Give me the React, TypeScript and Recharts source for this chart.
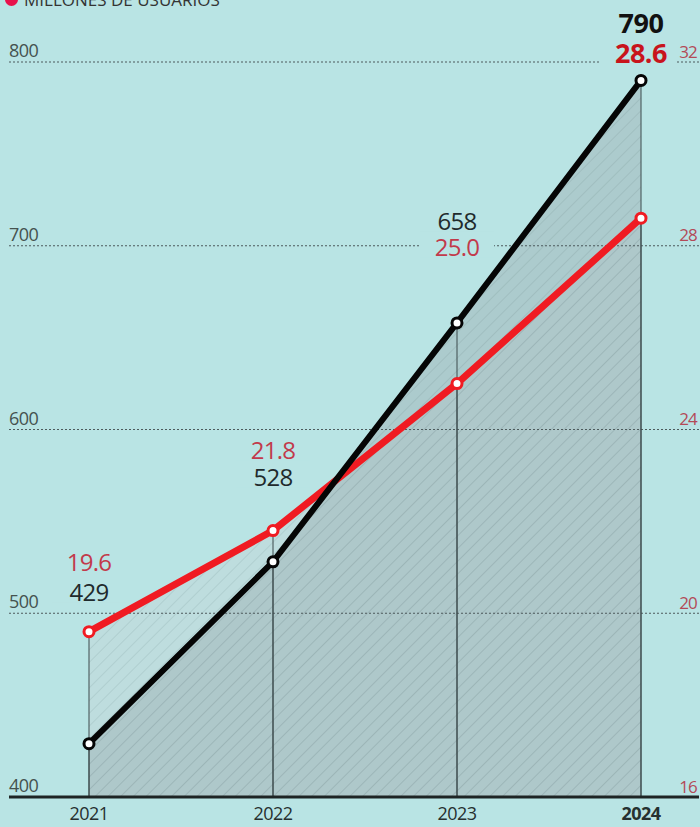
import { ComposedChart, Area, Line, XAxis, YAxis, ReferenceLine, LabelList } from 'recharts';

const years = ['2021', '2022', '2023', '2024'];
const users = [429, 528, 658, 790];
const share = [19.6, 21.8, 25.0, 28.6];
const userTicks = [400, 500, 600, 700, 800];
const shareTicks = [16, 20, 24, 28, 32];

const data = years.map((year, i) => ({ year, users: users[i], share: share[i] }));

// label placement, relative to each point (style only)
const userLabelDy = [-152, -85, -102, -58];
const shareLabelDy = [-70, -81, -137, -166];

const BG = '#b9e4e4';
const FONT = '"Open Sans", "Noto Sans", sans-serif';

function LeftTick({ x, y, payload }: any) {
  return (
    <text x={x} y={y - 12} textAnchor="start" dominantBaseline="central" fontSize={18} fill="#45524f" fontFamily={FONT} letterSpacing={-0.5}>
      {payload.value}
    </text>
  );
}

function RightTick({ x, y, payload }: any) {
  return (
    <text x={x - 2} y={y - 11} textAnchor="end" dominantBaseline="central" fontSize={17} fill="#b34a57" fontFamily={FONT} letterSpacing={-0.8}>
      {payload.value}
    </text>
  );
}

function YearTick({ x, y, payload, index }: any) {
  return (
    <text x={x} y={y + 16} textAnchor="middle" dominantBaseline="central" fontSize={18} fill="#26302f" fontWeight={index === 3 ? 700 : 400} fontFamily={FONT} letterSpacing={-0.5}>
      {payload.value}
    </text>
  );
}

function makeLabel(offsets: number[], color: string, boldColor: string, fmt: (v: number) => string) {
  return ({ x, y, value, index }: any) => {
    const last = index === years.length - 1;
    const cy = y + offsets[index];
    return (
      <g>
        <rect x={x - (last ? 40 : 37)} y={cy - 11} width={last ? 76 : 74} height={22} fill={BG} />
        <text x={x} y={cy} textAnchor="middle" dominantBaseline="central" fontSize={last ? 27 : 24} fontFamily={FONT}
          letterSpacing={last ? -0.5 : -0.8} fontWeight={last ? 700 : 400} fill={last ? boldColor : color}>
          {fmt(value)}
        </text>
      </g>
    );
  };
}

export default function App() {
  return (
    <div style={{ position: 'fixed', top: 0, left: 0, width: 700, height: 827, overflow: 'hidden', background: BG }}>
      <div style={{ position: 'absolute', top: -12, left: 5, fontFamily: FONT, fontSize: 17, color: '#333', display: 'flex', alignItems: 'center', gap: 6, whiteSpace: 'nowrap' }}>
        <span style={{ width: 13, height: 13, borderRadius: 7, background: '#e8114b', display: 'inline-block' }} />
        MILLONES DE USUARIOS
      </div>
      <ComposedChart width={700} height={827} data={data} margin={{ top: 62, right: 0, bottom: 0, left: 8 }}>
        <defs>
          <pattern id="hatchLight" width="9" height="9" patternUnits="userSpaceOnUse" patternTransform="rotate(45)">
            <rect width="9" height="9" fill="#c2d9da" />
            <line x1="0" y1="0" x2="0" y2="9" stroke="#a9c0c2" strokeWidth="2" />
          </pattern>
          <pattern id="hatchDark" width="9" height="9" patternUnits="userSpaceOnUse" patternTransform="rotate(45)">
            <rect width="9" height="9" fill="#a4babd" />
            <line x1="0" y1="0" x2="0" y2="9" stroke="#8fa5a8" strokeWidth="2" />
          </pattern>
        </defs>
        <XAxis dataKey="year" height={30} padding={{ left: 80, right: 58 }} axisLine={{ stroke: '#1e2424', strokeWidth: 3 }}
          tickLine={false} tickSize={0} tickMargin={0} tick={<YearTick />} interval={0} />
        <YAxis yAxisId="users" orientation="left" width={1} domain={[400, 800]} ticks={userTicks} interval={0}
          axisLine={false} tickLine={false} tickSize={0} tickMargin={0} tick={<LeftTick />} />
        <YAxis yAxisId="share" orientation="right" width={1} domain={[16, 32]} ticks={shareTicks} interval={0}
          axisLine={false} tickLine={false} tickSize={0} tickMargin={0} tick={<RightTick />} />

        <Area yAxisId="share" type="linear" dataKey="share" stroke="none" fill="url(#hatchLight)" isAnimationActive={false} />
        <Area yAxisId="users" type="linear" dataKey="users" stroke="none" fill="url(#hatchDark)" isAnimationActive={false} />

        {userTicks.slice(1).map((t) => (
          <ReferenceLine key={t} yAxisId="users" y={t} stroke="#4d5a5c" strokeDasharray="2 2" strokeWidth={1} />
        ))}
        {data.map((d) => (
          <ReferenceLine key={'u' + d.year} yAxisId="users" segment={[{ x: d.year, y: d.users }, { x: d.year, y: 400 }]} stroke="#3c4a4d" strokeWidth={1} />
        ))}
        {data.map((d) => (
          <ReferenceLine key={'s' + d.year} yAxisId="share" segment={[{ x: d.year, y: d.share }, { x: d.year, y: 16 }]} stroke="#3c4a4d" strokeWidth={1} />
        ))}

        <Line yAxisId="share" type="linear" dataKey="share" stroke="#f01b22" strokeWidth={7}
          dot={{ r: 5, fill: '#fff', stroke: '#f01b22', strokeWidth: 3 }} activeDot={false} isAnimationActive={false}>
          <LabelList dataKey="share" content={makeLabel(shareLabelDy, '#c23a4b', '#c8141c', (v) => v.toFixed(1))} />
        </Line>
        <Line yAxisId="users" type="linear" dataKey="users" stroke="#050505" strokeWidth={6}
          dot={{ r: 5, fill: '#fff', stroke: '#050505', strokeWidth: 3 }} activeDot={false} isAnimationActive={false}>
          <LabelList dataKey="users" content={makeLabel(userLabelDy, '#1f2a2c', '#111', (v) => String(v))} />
        </Line>
      </ComposedChart>
    </div>
  );
}
